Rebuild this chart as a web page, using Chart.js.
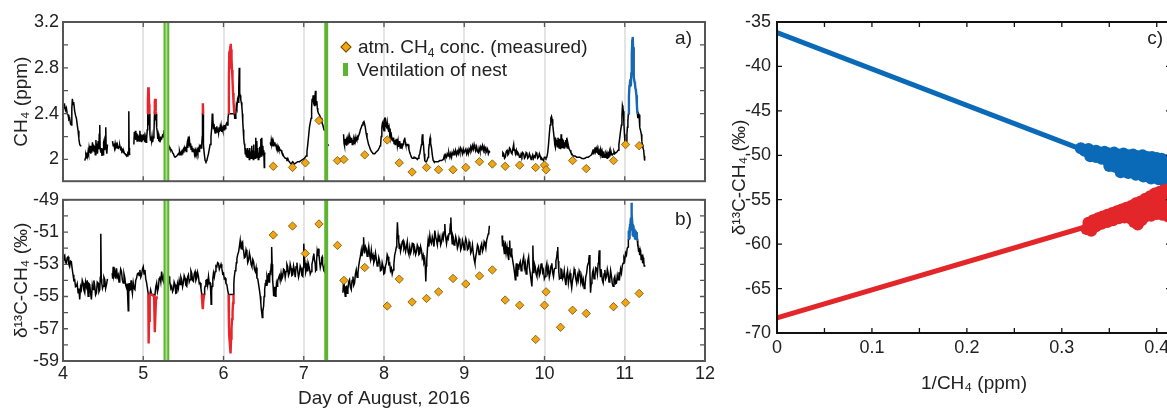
<!DOCTYPE html>
<html>
<head>
<meta charset="utf-8">
<script src="https://cdn.jsdelivr.net/npm/chart.js@4.4.0/dist/chart.umd.min.js"></script>
<style>
html,body{margin:0;padding:0;background:#fff;overflow:hidden;width:1167px;height:412px;}
canvas{position:absolute;}
#legend{position:absolute;left:339px;top:35px;font-family:"Liberation Sans",Arial,sans-serif;font-size:19px;color:#222;}
#legend .row{height:23px;display:flex;align-items:center;white-space:nowrap;}
#legend .dia{display:inline-block;width:6px;height:6px;transform:rotate(45deg);background:#f0a518;border:1px solid #6e5200;margin:0 8px 0 3px;}
#legend .bar{display:inline-block;width:5px;height:13px;background:#5bb52f;margin:0 9px 0 4px;}
#legend sub{font-size:12px;vertical-align:-4px;line-height:0;}
</style>
</head>
<body>
<canvas id="chartA" width="730" height="196" style="left:0;top:0"></canvas>
<canvas id="chartB" width="730" height="227" style="left:0;top:185px"></canvas>
<canvas id="chartC" width="470" height="400" style="left:725px;top:0"></canvas>
<div id="legend">
  <div class="row"><span class="dia"></span><span>atm. CH<sub>4</sub> conc. (measured)</span></div>
  <div class="row"><span class="bar"></span><span>Ventilation of nest</span></div>
</div>
<script>
// ticks
let dayTicks = [4,5,6,7,8,9,10,11,12]
let ch4Ticks = [2.0,2.2,2.4,2.6,2.8,3.0,3.2]
let ch4Labels = [2,2.4,2.8,3.2]
let d13Ticks = [-59,-58,-57,-56,-55,-54,-53,-52,-51,-50,-49]
let d13Labels = [-59,-57,-55,-53,-51,-49]
let invTicks = [0,0.05,0.1,0.15,0.2,0.25,0.3,0.35,0.4]
let invLabels = [0,0.1,0.2,0.3,0.4]
let keelTicks = [-70,-65,-60,-55,-50,-45,-40,-35]

// ventilation of nest (day of August)
let ventStart = [5.265, 7.268]
let ventEnd = [5.312, 7.292]

// atmospheric measurements
let atmDays = [6.62,6.86,7.02,7.19,7.42,7.50,7.76,8.04,8.19,8.35,8.53,8.68,8.86,9.02,9.19,9.35,9.51,9.69,9.89,10.00,10.02,10.20,10.35,10.52,10.86,11.01,11.18]
let atmCH4 = [1.94,1.93,1.97,2.34,1.99,2.00,2.04,2.17,1.97,1.89,1.93,1.91,1.91,1.93,1.98,1.96,1.94,1.95,1.93,1.95,1.91,null,1.99,1.92,1.99,2.13,2.12]
let atmD13 = [-51.18,-50.63,-52.33,-50.50,-51.83,-54.00,-53.20,-55.59,-53.92,-55.34,-55.12,-54.71,-53.88,-54.22,-53.72,-53.35,-55.22,-55.54,-57.66,-55.54,-54.71,-56.91,-55.85,-56.05,-55.63,-55.38,-54.81]

// CH4 in the nest, ppm  [day, value]
let ch4Line = [
[4.000,2.49],[4.010,2.45],[4.021,2.47],[4.031,2.43],[4.042,2.45],[4.052,2.40],[4.063,2.39],[4.073,2.35],[4.083,2.36],[4.094,2.31],[4.104,2.30],[4.110,2.45],[4.117,2.53],[4.125,2.48],[4.133,2.50],[4.146,2.42],[4.158,2.38],[4.167,2.36],[4.178,2.30],[4.188,2.25],[4.198,2.18],[4.208,2.13],[4.218,2.12],[4.229,2.12],[4.230,null],
[4.271,1.99],[4.279,2.01],[4.285,2.04],[4.292,2.02],[4.298,2.06],[4.306,2.03],[4.313,2.07],[4.319,2.05],[4.325,2.10],[4.333,2.06],[4.340,2.12],[4.346,2.05],[4.354,2.11],[4.360,2.06],[4.367,2.15],[4.375,2.08],[4.381,2.13],[4.388,2.07],[4.396,2.12],[4.402,2.04],[4.410,2.17],[4.417,2.08],[4.423,2.14],[4.430,2.05],[4.438,2.16],[4.446,2.09],[4.452,2.22],[4.458,2.30],[4.463,2.10],[4.471,2.06],[4.479,2.10],[4.485,2.03],[4.492,2.09],[4.500,2.04],[4.506,2.15],[4.513,2.17],[4.519,2.08],[4.525,2.12],[4.533,2.28],[4.538,2.10],[4.546,2.05],[4.554,2.13],[4.555,null],
[4.617,2.16],[4.625,2.12],[4.633,2.14],[4.642,2.10],[4.650,2.14],[4.658,2.11],[4.667,2.13],[4.675,2.10],[4.683,2.12],[4.692,2.10],[4.700,2.11],[4.708,2.12],[4.717,2.09],[4.725,2.10],[4.733,2.07],[4.742,2.08],[4.750,2.06],[4.758,2.07],[4.767,2.05],[4.775,2.05],[4.783,2.04],[4.792,2.04],[4.800,2.03],[4.808,2.05],[4.815,2.04],[4.819,2.25],[4.821,2.42],[4.824,2.10],[4.829,2.05],[4.835,2.04],[4.836,null],
[4.883,2.13],[4.889,2.24],[4.896,2.18],[4.902,2.25],[4.908,2.17],[4.917,2.23],[4.923,2.16],[4.929,2.22],[4.938,2.17],[4.944,2.21],[4.950,2.16],[4.958,2.25],[4.965,2.17],[4.971,2.22],[4.979,2.15],[4.985,2.21],[4.992,2.16],[5.000,2.22],[5.006,2.17],[5.013,2.20],[5.021,2.15],[5.029,2.19],[5.035,2.15],[5.042,2.18],[5.050,2.26],[5.056,2.40],[5.063,2.39],[5.071,2.30],[5.077,2.40],[5.083,2.22],[5.090,2.17],[5.096,2.20],[5.104,2.16],[5.110,2.20],[5.117,2.15],[5.125,2.19],[5.133,2.22],[5.140,2.40],[5.146,2.39],[5.154,2.34],[5.160,2.40],[5.167,2.28],[5.175,2.24],[5.181,2.18],[5.188,2.21],[5.194,2.16],[5.200,2.19],[5.208,2.15],[5.217,2.19],[5.229,2.18],[5.240,2.21],[5.250,2.20],[5.260,2.25],[5.271,2.30],[5.281,2.24],[5.292,2.19],[5.302,2.15],[5.313,2.13],[5.323,2.11],[5.333,2.09],[5.344,2.09],[5.354,2.08],[5.365,2.06],[5.375,2.05],[5.385,2.03],[5.396,2.02],[5.406,2.02],[5.417,2.03],[5.427,2.04],[5.438,2.05],[5.446,2.04],[5.452,2.07],[5.458,2.05],[5.465,2.07],[5.471,2.04],[5.479,2.06],[5.485,2.05],[5.492,2.08],[5.500,2.09],[5.506,2.06],[5.513,2.10],[5.521,2.08],[5.527,2.11],[5.535,2.07],[5.542,2.11],[5.548,2.14],[5.556,2.10],[5.563,2.20],[5.569,2.12],[5.577,2.16],[5.583,2.11],[5.590,2.14],[5.596,2.09],[5.604,2.12],[5.610,2.07],[5.617,2.10],[5.625,2.07],[5.631,2.09],[5.638,2.05],[5.646,2.08],[5.652,2.06],[5.658,2.08],[5.667,2.05],[5.675,2.08],[5.681,2.06],[5.688,2.09],[5.696,2.07],[5.702,2.11],[5.708,2.10],[5.715,2.13],[5.721,2.10],[5.729,2.13],[5.735,2.20],[5.738,2.40],[5.746,2.40],[5.750,2.13],[5.760,2.05],[5.771,1.99],[5.781,1.98],[5.792,1.99],[5.802,2.02],[5.813,2.05],[5.823,2.09],[5.833,2.13],[5.844,2.20],[5.854,2.28],[5.860,2.40],[5.867,2.36],[5.875,2.27],[5.881,2.31],[5.888,2.26],[5.896,2.23],[5.902,2.28],[5.908,2.24],[5.917,2.29],[5.923,2.25],[5.929,2.27],[5.938,2.23],[5.944,2.28],[5.950,2.24],[5.958,2.28],[5.965,2.25],[5.971,2.29],[5.979,2.24],[5.985,2.27],[5.992,2.25],[6.000,2.28],[6.008,2.26],[6.015,2.30],[6.021,2.27],[6.029,2.30],[6.035,2.31],[6.042,2.33],[6.050,2.30],[6.056,2.36],[6.063,2.40],[6.069,2.40],[6.135,2.40],[6.140,2.36],[6.146,2.36],[6.154,2.40],[6.160,2.47],[6.167,2.45],[6.175,2.52],[6.181,2.50],[6.188,2.56],[6.192,2.62],[6.196,2.80],[6.200,2.70],[6.204,2.58],[6.208,2.56],[6.215,2.52],[6.221,2.50],[6.229,2.46],[6.235,2.40],[6.240,2.33],[6.246,2.26],[6.252,2.19],[6.258,2.14],[6.265,2.12],[6.271,2.05],[6.277,2.10],[6.283,2.03],[6.290,2.09],[6.296,2.02],[6.302,2.10],[6.308,2.04],[6.315,2.08],[6.321,2.00],[6.327,2.10],[6.333,2.03],[6.340,2.07],[6.346,2.01],[6.352,2.12],[6.358,2.02],[6.365,2.08],[6.371,2.00],[6.377,2.13],[6.383,2.02],[6.390,2.07],[6.396,2.01],[6.402,2.19],[6.408,2.03],[6.415,2.16],[6.421,2.02],[6.427,2.10],[6.433,2.00],[6.440,2.06],[6.446,2.02],[6.452,2.11],[6.458,2.04],[6.465,2.18],[6.471,2.03],[6.477,2.19],[6.483,2.04],[6.490,2.12],[6.496,2.05],[6.502,2.08],[6.508,1.93],[6.512,2.05],[6.520,2.06],[6.521,null],
[6.583,2.15],[6.590,2.12],[6.596,2.17],[6.604,2.14],[6.610,2.16],[6.617,2.12],[6.625,2.15],[6.633,2.13],[6.640,2.15],[6.646,2.12],[6.654,2.13],[6.660,2.10],[6.667,2.12],[6.675,2.09],[6.683,2.11],[6.690,2.09],[6.696,2.10],[6.706,2.08],[6.717,2.08],[6.727,2.06],[6.738,2.05],[6.748,2.03],[6.758,2.02],[6.769,2.01],[6.779,2.01],[6.790,2.00],[6.800,2.01],[6.810,1.99],[6.821,1.98],[6.831,1.97],[6.842,1.96],[6.852,1.97],[6.863,1.98],[6.873,1.97],[6.883,1.96],[6.904,1.97],[6.925,1.98],[6.946,1.98],[6.967,1.99],[6.988,2.00],[7.008,2.01],[7.019,2.02],[7.029,2.03],[7.040,2.07],[7.050,2.13],[7.060,2.20],[7.071,2.28],[7.081,2.32],[7.092,2.36],[7.098,2.45],[7.104,2.53],[7.110,2.50],[7.117,2.56],[7.121,2.55],[7.127,2.49],[7.133,2.47],[7.140,2.55],[7.146,2.60],[7.152,2.52],[7.158,2.48],[7.163,2.51],[7.169,2.45],[7.175,2.42],[7.185,2.40],[7.196,2.39],[7.206,2.37],[7.217,2.36],[7.227,2.32],[7.238,2.30],[7.248,2.27],[7.258,2.25],[7.259,null],
[7.300,2.13],[7.310,2.12],[7.311,null],
[7.496,2.22],[7.502,2.14],[7.508,2.12],[7.515,2.18],[7.521,2.13],[7.529,2.16],[7.535,2.12],[7.542,2.17],[7.550,2.13],[7.556,2.18],[7.563,2.14],[7.571,2.19],[7.577,2.15],[7.583,2.18],[7.592,2.16],[7.598,2.19],[7.604,2.13],[7.613,2.17],[7.619,2.14],[7.625,2.18],[7.633,2.16],[7.640,2.19],[7.646,2.16],[7.654,2.18],[7.660,2.17],[7.667,2.20],[7.675,2.19],[7.685,2.21],[7.696,2.23],[7.706,2.26],[7.717,2.28],[7.727,2.30],[7.738,2.32],[7.750,2.33],[7.758,2.31],[7.767,2.28],[7.777,2.23],[7.788,2.19],[7.798,2.16],[7.808,2.13],[7.819,2.11],[7.829,2.09],[7.842,2.07],[7.854,2.06],[7.865,2.05],[7.875,2.05],[7.885,2.05],[7.896,2.06],[7.910,2.07],[7.925,2.08],[7.940,2.10],[7.952,2.12],[7.958,2.13],[7.965,2.20],[7.971,2.26],[7.975,2.28],[7.981,2.32],[7.988,2.33],[7.994,2.27],[8.000,2.25],[8.006,2.30],[8.012,2.36],[8.017,2.36],[8.025,2.29],[8.033,2.28],[8.040,2.32],[8.046,2.27],[8.050,2.30],[8.058,2.24],[8.065,2.27],[8.071,2.22],[8.079,2.24],[8.085,2.19],[8.092,2.21],[8.100,2.17],[8.106,2.19],[8.113,2.16],[8.119,2.19],[8.125,2.14],[8.133,2.17],[8.140,2.13],[8.146,2.16],[8.154,2.15],[8.160,2.18],[8.167,2.12],[8.175,2.16],[8.181,2.11],[8.188,2.15],[8.196,2.16],[8.202,2.10],[8.208,2.14],[8.217,2.10],[8.223,2.14],[8.229,2.11],[8.238,2.13],[8.244,2.15],[8.250,2.17],[8.258,2.19],[8.265,2.15],[8.271,2.13],[8.279,2.12],[8.290,2.13],[8.300,2.13],[8.310,2.09],[8.321,2.06],[8.331,2.04],[8.342,2.02],[8.352,2.01],[8.363,2.01],[8.373,2.02],[8.383,2.02],[8.394,2.01],[8.404,2.01],[8.415,2.00],[8.425,2.01],[8.435,2.03],[8.446,2.05],[8.456,2.09],[8.467,2.13],[8.473,2.18],[8.479,2.22],[8.485,2.17],[8.492,2.13],[8.500,2.05],[8.508,1.99],[8.519,1.98],[8.529,1.98],[8.540,2.00],[8.550,2.02],[8.556,2.08],[8.563,2.13],[8.569,2.17],[8.575,2.19],[8.581,2.14],[8.592,2.10],[8.602,2.04],[8.613,1.99],[8.623,1.98],[8.633,1.98],[8.654,1.98],[8.675,1.98],[8.696,1.99],[8.717,1.99],[8.738,2.00],[8.750,2.03],[8.758,2.01],[8.765,2.04],[8.779,2.02],[8.788,2.05],[8.800,2.03],[8.808,2.06],[8.821,2.02],[8.831,2.05],[8.842,2.02],[8.850,2.06],[8.863,2.04],[8.871,2.07],[8.883,2.05],[8.892,2.08],[8.904,2.04],[8.915,2.07],[8.925,2.05],[8.935,2.09],[8.946,2.06],[8.956,2.10],[8.967,2.08],[8.977,2.05],[8.988,2.09],[8.998,2.06],[9.008,2.06],[9.019,2.09],[9.029,2.05],[9.040,2.08],[9.050,2.05],[9.060,2.09],[9.071,2.07],[9.081,2.11],[9.092,2.08],[9.102,2.12],[9.113,2.09],[9.123,2.13],[9.133,2.10],[9.144,2.08],[9.154,2.11],[9.165,2.07],[9.175,2.06],[9.185,2.10],[9.196,2.07],[9.206,2.11],[9.217,2.09],[9.227,2.12],[9.238,2.08],[9.248,2.11],[9.258,2.08],[9.269,2.10],[9.279,2.07],[9.290,2.09],[9.300,2.05],[9.310,2.07],[9.321,2.06],[9.322,null],
[9.471,2.03],[9.481,2.06],[9.492,2.05],[9.502,2.01],[9.512,2.02],[9.523,2.07],[9.533,2.08],[9.544,2.04],[9.554,2.05],[9.564,2.10],[9.574,2.09],[9.585,2.06],[9.595,2.05],[9.605,2.09],[9.616,2.13],[9.622,2.08],[9.628,2.09],[9.638,2.05],[9.649,2.08],[9.659,2.04],[9.669,2.06],[9.678,2.05],[9.688,2.02],[9.698,2.02],[9.709,2.05],[9.719,2.03],[9.729,2.06],[9.740,2.05],[9.750,2.01],[9.760,2.02],[9.771,2.06],[9.781,2.05],[9.791,2.01],[9.802,2.02],[9.812,2.05],[9.822,2.03],[9.833,2.00],[9.843,2.02],[9.853,2.04],[9.864,2.01],[9.874,2.03],[9.884,2.02],[9.895,2.06],[9.905,2.05],[9.915,2.01],[9.926,2.02],[9.936,2.05],[9.946,2.03],[9.957,2.00],[9.967,2.01],[9.977,2.00],[9.988,1.99],[9.998,2.02],[10.008,2.02],[10.018,2.01],[10.029,2.02],[10.040,2.06],[10.050,2.13],[10.060,2.22],[10.070,2.30],[10.079,2.36],[10.087,2.375],[10.095,2.35],[10.103,2.30],[10.112,2.24],[10.120,2.19],[10.128,2.13],[10.136,2.105],[10.144,2.17],[10.153,2.15],[10.161,2.11],[10.168,2.19],[10.174,2.16],[10.182,2.10],[10.188,2.18],[10.194,2.13],[10.201,2.09],[10.207,2.22],[10.213,2.12],[10.219,2.105],[10.227,2.17],[10.236,2.16],[10.244,2.10],[10.250,2.15],[10.256,2.12],[10.264,2.17],[10.271,2.11],[10.277,2.19],[10.285,2.10],[10.292,2.14],[10.298,2.12],[10.308,2.09],[10.318,2.08],[10.329,2.06],[10.339,2.05],[10.349,2.04],[10.360,2.03],[10.380,2.03],[10.401,2.02],[10.421,2.02],[10.442,2.02],[10.462,2.01],[10.483,2.006],[10.504,2.01],[10.525,2.02],[10.545,2.02],[10.566,2.03],[10.586,2.04],[10.600,2.07],[10.607,2.05],[10.614,2.09],[10.621,2.06],[10.628,2.105],[10.635,2.07],[10.642,2.09],[10.649,2.06],[10.656,2.09],[10.663,2.05],[10.669,2.08],[10.676,2.04],[10.683,2.07],[10.690,2.05],[10.697,2.08],[10.704,2.03],[10.711,2.06],[10.718,2.02],[10.725,2.05],[10.731,2.03],[10.738,2.07],[10.745,2.02],[10.752,2.05],[10.759,2.02],[10.766,2.06],[10.773,2.05],[10.780,2.01],[10.786,2.04],[10.793,2.02],[10.800,2.07],[10.807,2.03],[10.814,2.06],[10.821,2.04],[10.828,2.07],[10.835,2.05],[10.845,2.04],[10.855,2.05],[10.866,2.07],[10.876,2.05],[10.887,2.06],[10.897,2.06],[10.907,2.07],[10.917,2.08],[10.927,2.13],[10.938,2.19],[10.948,2.25],[10.959,2.30],[10.965,2.38],[10.971,2.47],[10.977,2.45],[10.983,2.42],[10.989,2.32],[10.996,2.22],[11.002,2.16],[11.008,2.13],[11.015,2.15],[11.021,2.16],[11.027,2.22],[11.033,2.28],[11.039,2.34],[11.045,2.40],[11.046,null],
[11.157,2.40],[11.162,2.37],[11.165,2.36],[11.171,2.40],[11.178,2.39],[11.184,2.33],[11.190,2.28],[11.198,2.25],[11.207,2.22],[11.213,2.16],[11.219,2.13],[11.227,2.10],[11.236,2.08],[11.242,2.03],[11.248,1.99]
]
let ch4Red = [
[5.054,2.40],[5.058,2.52],[5.063,2.63],[5.068,2.60],[5.073,2.48],[5.077,2.40],[5.078,null],
[5.140,2.40],[5.144,2.50],[5.148,2.53],[5.153,2.50],[5.158,2.42],[5.160,2.40],[5.161,null],
[5.738,2.40],[5.741,2.47],[5.744,2.49],[5.747,2.40],[5.748,null],
[6.063,2.40],[6.067,2.70],[6.071,2.88],[6.076,2.92],[6.080,2.86],[6.085,2.98],[6.090,3.01],[6.095,2.96],[6.100,2.88],[6.106,2.78],[6.112,2.70],[6.119,2.58],[6.125,2.50],[6.131,2.44],[6.135,2.40]
]
let ch4Blue = [
[11.045,2.40],[11.052,2.55],[11.058,2.64],[11.064,2.66],[11.070,2.70],[11.076,2.64],[11.082,2.75],[11.088,2.92],[11.094,3.04],[11.099,3.07],[11.104,2.98],[11.109,2.80],[11.115,2.72],[11.121,2.68],[11.127,2.66],[11.133,2.62],[11.139,2.60],[11.145,2.56],[11.151,2.48],[11.157,2.40]
]

// d13C-CH4 in the nest, permil  [day, value]
let d13Line = [
[4.000,-52.74],[4.010,-52.50],[4.021,-52.43],[4.031,-52.90],[4.042,-52.94],[4.052,-52.60],[4.063,-52.54],[4.073,-53.00],[4.083,-53.15],[4.094,-52.80],[4.104,-52.84],[4.115,-53.30],[4.125,-53.65],[4.135,-54.00],[4.146,-53.96],[4.156,-54.40],[4.167,-54.37],[4.177,-54.20],[4.188,-54.77],[4.198,-54.50],[4.208,-55.18],[4.219,-54.40],[4.229,-54.57],[4.240,-54.00],[4.250,-54.16],[4.260,-54.60],[4.271,-54.77],[4.281,-54.10],[4.292,-54.37],[4.302,-54.00],[4.313,-54.98],[4.323,-54.20],[4.333,-54.26],[4.344,-54.80],[4.354,-55.18],[4.365,-54.30],[4.375,-54.57],[4.385,-54.00],[4.396,-54.37],[4.406,-54.90],[4.417,-54.77],[4.427,-54.10],[4.438,-54.16],[4.448,-54.70],[4.458,-54.57],[4.465,-53.80],[4.471,-51.11],[4.477,-53.90],[4.483,-54.16],[4.492,-54.50],[4.500,-54.37],[4.510,-53.80],[4.521,-53.96],[4.531,-54.50],[4.542,-54.26],[4.554,-53.90],[4.555,null],
[4.613,-53.55],[4.619,-53.90],[4.625,-53.15],[4.635,-53.70],[4.646,-53.45],[4.656,-53.90],[4.667,-53.25],[4.677,-53.80],[4.688,-53.65],[4.698,-54.10],[4.708,-53.76],[4.719,-53.30],[4.729,-53.45],[4.740,-54.00],[4.750,-54.16],[4.760,-53.60],[4.771,-53.86],[4.781,-54.30],[4.792,-54.47],[4.800,-54.20],[4.806,-55.00],[4.813,-55.89],[4.819,-54.80],[4.825,-54.16],[4.833,-54.60],[4.842,-54.57],[4.848,-54.00],[4.854,-54.37],[4.865,-54.80],[4.875,-54.16],[4.885,-54.50],[4.896,-54.57],[4.906,-54.00],[4.917,-53.86],[4.927,-53.60],[4.938,-53.55],[4.948,-53.70],[4.958,-53.35],[4.969,-53.80],[4.979,-53.65],[4.990,-53.30],[5.000,-53.15],[5.010,-53.60],[5.021,-53.35],[5.031,-53.90],[5.042,-54.16],[5.052,-54.50],[5.063,-54.87],[5.083,-54.87],[5.092,-54.60],[5.104,-54.87],[5.125,-54.87],[5.146,-54.90],[5.156,-54.40],[5.167,-54.16],[5.177,-54.70],[5.188,-54.47],[5.198,-53.90],[5.208,-53.76],[5.219,-54.10],[5.229,-53.45],[5.240,-53.90],[5.250,-54.06],[5.260,-53.60],[5.271,-53.25],[5.277,-53.70],[5.283,-53.86],[5.292,-54.30],[5.300,-54.16],[5.310,-53.70],[5.321,-53.76],[5.327,-54.20],[5.333,-54.06],[5.344,-54.50],[5.354,-54.37],[5.365,-54.70],[5.375,-54.57],[5.385,-54.10],[5.396,-54.26],[5.406,-54.80],[5.417,-54.77],[5.427,-54.20],[5.438,-54.47],[5.448,-54.00],[5.458,-54.26],[5.469,-53.80],[5.479,-53.96],[5.490,-54.40],[5.500,-54.16],[5.510,-53.70],[5.521,-53.86],[5.531,-54.30],[5.542,-54.37],[5.552,-53.80],[5.563,-53.65],[5.573,-54.10],[5.583,-53.96],[5.594,-53.40],[5.604,-53.55],[5.615,-54.00],[5.625,-54.06],[5.635,-53.60],[5.646,-53.45],[5.656,-54.00],[5.667,-53.86],[5.677,-53.50],[5.688,-53.76],[5.698,-54.20],[5.708,-54.16],[5.719,-54.50],[5.729,-54.87],[5.758,-54.87],[5.765,-54.50],[5.771,-54.37],[5.781,-54.00],[5.792,-53.96],[5.802,-54.30],[5.813,-53.76],[5.823,-54.20],[5.833,-54.16],[5.840,-54.60],[5.846,-55.48],[5.852,-54.60],[5.858,-54.37],[5.867,-53.90],[5.875,-53.55],[5.885,-53.80],[5.896,-53.45],[5.906,-53.10],[5.917,-53.15],[5.927,-52.90],[5.938,-52.94],[5.948,-53.30],[5.958,-53.15],[5.969,-53.00],[5.979,-53.25],[5.990,-53.60],[6.000,-53.55],[6.010,-53.90],[6.021,-53.86],[6.031,-54.20],[6.042,-54.26],[6.052,-54.60],[6.063,-54.87],[6.125,-54.87],[6.129,-54.20],[6.133,-53.86],[6.144,-53.40],[6.154,-53.25],[6.160,-52.90],[6.167,-52.64],[6.177,-52.40],[6.188,-52.23],[6.198,-51.90],[6.208,-51.52],[6.215,-51.90],[6.221,-52.03],[6.229,-51.70],[6.238,-51.62],[6.244,-52.10],[6.250,-52.13],[6.260,-52.60],[6.271,-52.54],[6.281,-52.10],[6.292,-52.33],[6.302,-52.90],[6.313,-52.74],[6.323,-52.30],[6.333,-52.54],[6.344,-53.00],[6.354,-53.15],[6.365,-52.70],[6.375,-52.84],[6.385,-53.30],[6.396,-53.45],[6.406,-53.20],[6.417,-53.86],[6.427,-53.90],[6.438,-54.26],[6.448,-54.60],[6.458,-54.98],[6.465,-55.40],[6.471,-55.79],[6.477,-56.00],[6.483,-56.30],[6.490,-55.90],[6.500,-55.59],[6.506,-55.00],[6.513,-54.57],[6.521,-54.20],[6.529,-53.96],[6.535,-54.30],[6.542,-53.76],[6.552,-54.00],[6.563,-53.55],[6.569,-54.10],[6.575,-53.86],[6.581,-53.50],[6.588,-53.55],[6.594,-53.00],[6.600,-51.93],[6.606,-53.00],[6.612,-53.96],[6.619,-54.40],[6.625,-54.98],[6.633,-54.77],[6.640,-54.40],[6.646,-54.98],[6.654,-54.70],[6.660,-54.20],[6.667,-54.37],[6.675,-54.00],[6.683,-53.90],[6.696,-53.70],[6.706,-54.00],[6.717,-53.55],[6.727,-53.90],[6.738,-53.76],[6.748,-53.30],[6.758,-53.35],[6.769,-53.80],[6.779,-53.45],[6.790,-53.00],[6.800,-53.15],[6.810,-53.70],[6.821,-53.55],[6.831,-53.00],[6.842,-53.25],[6.852,-53.70],[6.863,-53.65],[6.873,-53.10],[6.883,-53.35],[6.894,-53.80],[6.904,-53.15],[6.915,-52.90],[6.925,-53.45],[6.935,-53.80],[6.946,-53.55],[6.956,-53.10],[6.967,-53.25],[6.977,-53.70],[6.988,-53.76],[6.994,-53.20],[7.000,-51.72],[7.008,-52.60],[7.017,-52.94],[7.025,-53.50],[7.033,-53.35],[7.042,-53.00],[7.050,-53.45],[7.060,-53.00],[7.071,-53.25],[7.081,-53.60],[7.092,-53.45],[7.102,-53.00],[7.113,-52.74],[7.119,-52.50],[7.125,-52.33],[7.133,-52.70],[7.142,-52.94],[7.148,-53.40],[7.154,-53.35],[7.160,-52.80],[7.167,-52.23],[7.175,-52.50],[7.183,-52.03],[7.190,-52.40],[7.196,-52.74],[7.206,-53.20],[7.217,-52.94],[7.223,-52.60],[7.229,-52.54],[7.235,-53.00],[7.242,-53.15],[7.250,-53.40],[7.258,-53.45],[7.265,-53.00],[7.271,-52.74],[7.279,-53.10],[7.285,-53.25],[7.292,-53.45],[7.293,null],
[7.488,-54.77],[7.494,-54.20],[7.500,-53.86],[7.508,-54.60],[7.517,-54.98],[7.525,-54.40],[7.533,-54.37],[7.542,-54.80],[7.550,-54.57],[7.560,-54.10],[7.571,-53.96],[7.581,-54.40],[7.592,-54.57],[7.602,-54.00],[7.613,-53.76],[7.623,-54.30],[7.633,-54.16],[7.644,-53.60],[7.654,-53.35],[7.665,-53.80],[7.675,-53.55],[7.685,-53.10],[7.696,-52.74],[7.706,-52.50],[7.717,-52.13],[7.725,-52.50],[7.733,-52.23],[7.740,-51.80],[7.746,-51.32],[7.752,-52.00],[7.758,-52.33],[7.769,-51.90],[7.779,-52.03],[7.790,-52.50],[7.800,-52.23],[7.810,-51.90],[7.821,-52.43],[7.831,-52.70],[7.842,-52.13],[7.852,-52.60],[7.863,-52.43],[7.873,-52.90],[7.883,-52.74],[7.894,-52.30],[7.904,-52.64],[7.915,-53.10],[7.925,-53.04],[7.935,-52.60],[7.946,-52.84],[7.956,-53.40],[7.967,-53.35],[7.977,-52.90],[7.988,-53.15],[7.998,-53.60],[8.008,-53.55],[8.019,-53.10],[8.029,-52.94],[8.040,-52.40],[8.050,-52.54],[8.060,-53.00],[8.071,-52.94],[8.081,-53.40],[8.092,-53.25],[8.102,-53.60],[8.113,-53.35],[8.123,-53.00],[8.133,-52.43],[8.144,-52.20],[8.154,-51.93],[8.160,-51.40],[8.167,-50.40],[8.175,-51.20],[8.183,-51.52],[8.190,-52.00],[8.196,-51.72],[8.206,-52.20],[8.217,-51.93],[8.227,-51.60],[8.238,-51.52],[8.248,-52.00],[8.258,-51.83],[8.269,-52.20],[8.279,-51.93],[8.290,-51.60],[8.300,-52.23],[8.310,-52.40],[8.321,-51.93],[8.331,-52.30],[8.342,-52.13],[8.352,-51.70],[8.363,-51.72],[8.373,-52.20],[8.383,-52.03],[8.394,-52.40],[8.404,-52.23],[8.415,-51.80],[8.425,-51.93],[8.435,-52.40],[8.446,-52.33],[8.456,-51.90],[8.467,-52.13],[8.477,-52.60],[8.488,-52.43],[8.498,-52.90],[8.508,-52.74],[8.515,-53.20],[8.521,-54.06],[8.527,-53.10],[8.533,-52.74],[8.542,-52.00],[8.550,-51.52],[8.560,-51.90],[8.571,-51.22],[8.581,-51.60],[8.592,-51.72],[8.602,-51.30],[8.613,-51.52],[8.623,-51.90],[8.633,-50.91],[8.644,-51.30],[8.654,-51.52],[8.665,-51.80],[8.675,-51.22],[8.685,-51.60],[8.696,-51.32],[8.706,-51.80],[8.717,-51.62],[8.727,-51.20],[8.738,-51.42],[8.748,-51.00],[8.758,-50.50],[8.765,-51.20],[8.779,-51.72],[8.790,-51.30],[8.800,-51.42],[8.810,-51.10],[8.821,-50.91],[8.827,-50.50],[8.833,-50.10],[8.840,-51.00],[8.850,-51.72],[8.856,-51.20],[8.863,-51.32],[8.873,-51.80],[8.883,-51.72],[8.894,-51.30],[8.904,-51.52],[8.915,-52.00],[8.925,-51.83],[8.935,-51.40],[8.946,-51.62],[8.956,-52.10],[8.967,-51.93],[8.977,-51.50],[8.988,-51.72],[8.998,-52.10],[9.008,-51.72],[9.019,-51.40],[9.029,-51.62],[9.040,-52.10],[9.050,-52.03],[9.060,-51.60],[9.071,-51.83],[9.081,-52.30],[9.092,-52.13],[9.102,-51.80],[9.113,-52.33],[9.123,-52.70],[9.133,-52.94],[9.144,-52.50],[9.154,-52.23],[9.165,-51.80],[9.175,-51.93],[9.185,-52.40],[9.196,-52.33],[9.206,-51.90],[9.217,-51.72],[9.227,-52.20],[9.238,-52.03],[9.248,-51.60],[9.258,-51.72],[9.269,-52.00],[9.279,-51.52],[9.290,-51.30],[9.300,-51.11],[9.306,-51.00],[9.313,-50.61],[9.314,null],
[9.471,-51.22],[9.477,-51.90],[9.483,-51.52],[9.492,-52.00],[9.500,-52.33],[9.506,-51.80],[9.512,-51.72],[9.522,-52.30],[9.533,-51.93],[9.543,-52.40],[9.554,-52.74],[9.560,-52.00],[9.566,-51.52],[9.573,-52.30],[9.583,-52.54],[9.589,-52.00],[9.595,-52.33],[9.605,-52.80],[9.616,-53.15],[9.626,-53.50],[9.636,-53.96],[9.643,-53.30],[9.649,-52.94],[9.657,-53.50],[9.665,-53.76],[9.671,-53.00],[9.678,-53.35],[9.688,-53.00],[9.698,-52.84],[9.709,-53.40],[9.719,-53.15],[9.729,-52.80],[9.740,-52.54],[9.750,-53.20],[9.760,-52.94],[9.771,-53.60],[9.781,-53.35],[9.791,-52.80],[9.802,-52.54],[9.812,-53.20],[9.822,-53.55],[9.833,-54.00],[9.843,-54.37],[9.849,-53.50],[9.855,-51.83],[9.861,-53.00],[9.868,-53.55],[9.876,-53.00],[9.884,-53.15],[9.895,-53.60],[9.905,-53.76],[9.915,-53.30],[9.926,-53.15],[9.936,-53.70],[9.946,-53.55],[9.957,-53.00],[9.967,-52.94],[9.977,-53.50],[9.988,-53.35],[9.998,-53.90],[10.008,-53.76],[10.018,-53.20],[10.029,-52.94],[10.040,-53.50],[10.050,-53.25],[10.060,-53.80],[10.070,-53.55],[10.081,-53.10],[10.091,-52.94],[10.101,-53.50],[10.112,-53.76],[10.122,-53.30],[10.132,-53.25],[10.142,-52.80],[10.153,-52.54],[10.159,-52.20],[10.165,-51.93],[10.171,-52.80],[10.178,-53.45],[10.186,-53.90],[10.194,-53.86],[10.205,-53.30],[10.215,-53.35],[10.225,-53.90],[10.236,-53.76],[10.246,-53.40],[10.256,-53.96],[10.267,-54.30],[10.277,-53.65],[10.287,-53.40],[10.298,-54.16],[10.308,-53.80],[10.318,-53.55],[10.329,-54.10],[10.339,-54.47],[10.349,-54.00],[10.360,-53.76],[10.370,-53.30],[10.380,-53.45],[10.390,-53.90],[10.401,-54.16],[10.411,-53.70],[10.421,-53.96],[10.432,-53.40],[10.442,-53.55],[10.452,-54.10],[10.463,-53.76],[10.473,-54.20],[10.483,-53.96],[10.494,-54.50],[10.504,-54.37],[10.514,-53.80],[10.525,-53.55],[10.535,-53.10],[10.545,-52.94],[10.552,-52.70],[10.558,-52.43],[10.566,-53.50],[10.574,-54.77],[10.582,-54.20],[10.591,-53.96],[10.599,-53.50],[10.607,-53.35],[10.617,-53.90],[10.628,-53.76],[10.638,-53.20],[10.649,-53.25],[10.659,-53.60],[10.669,-52.94],[10.676,-52.60],[10.682,-52.13],[10.690,-53.20],[10.698,-53.76],[10.704,-53.30],[10.711,-53.55],[10.721,-54.00],[10.731,-54.16],[10.742,-53.60],[10.752,-53.35],[10.762,-53.90],[10.773,-53.76],[10.783,-53.30],[10.793,-53.55],[10.804,-54.10],[10.814,-53.96],[10.824,-53.40],[10.835,-53.76],[10.845,-54.20],[10.855,-54.37],[10.866,-53.90],[10.876,-53.76],[10.886,-54.20],[10.897,-54.16],[10.907,-53.70],[10.917,-53.96],[10.928,-53.50],[10.938,-53.76],[10.948,-53.30],[10.959,-53.55],[10.969,-53.10],[10.979,-52.94],[10.990,-52.60],[11.000,-52.74],[11.010,-52.30],[11.021,-52.43],[11.031,-52.00],[11.041,-51.93],[11.045,-51.42],[11.046,null],
[11.157,-51.52],[11.161,-51.90],[11.165,-51.72],[11.170,-52.10],[11.174,-52.23],[11.180,-52.00],[11.186,-52.43],[11.192,-52.10],[11.198,-52.23],[11.204,-52.70],[11.211,-52.64],[11.217,-52.40],[11.223,-52.94],[11.230,-52.60],[11.236,-52.74],[11.242,-53.10],[11.248,-53.04]
]
let d13Red = [
[5.063,-54.87],[5.067,-57.92],[5.072,-56.50],[5.078,-55.20],[5.083,-54.87],[5.104,-54.87],[5.125,-54.95],[5.135,-55.00],[5.142,-56.00],[5.146,-57.21],[5.152,-56.00],[5.160,-55.10],[5.167,-54.98],[5.168,null],
[5.729,-54.87],[5.736,-55.40],[5.742,-55.79],[5.748,-55.30],[5.758,-54.87],[5.759,null],
[6.063,-54.87],[6.067,-56.50],[6.071,-57.41],[6.077,-57.80],[6.083,-58.20],[6.088,-58.53],[6.094,-57.60],[6.100,-57.01],[6.106,-56.40],[6.113,-55.99],[6.119,-55.40],[6.125,-54.87]
]
let d13Blue = [
[11.045,-51.42],[11.050,-50.91],[11.054,-51.30],[11.058,-50.70],[11.062,-51.32],[11.066,-50.60],[11.070,-50.61],[11.074,-50.40],[11.078,-50.10],[11.082,-50.91],[11.085,-49.80],[11.087,-49.18],[11.090,-49.90],[11.095,-50.50],[11.100,-51.22],[11.104,-50.60],[11.107,-50.71],[11.112,-51.30],[11.116,-50.80],[11.120,-51.32],[11.124,-50.91],[11.128,-51.40],[11.132,-50.90],[11.136,-51.42],[11.140,-50.91],[11.145,-51.42],[11.149,-51.00],[11.153,-51.42],[11.157,-51.52]
]

// Keeling plot  [1/CH4, d13C]
let keelBlueFit = [[0,-36.2],[0.325,-49.5]]
let keelRedFit = [[0,-68.3],[0.33,-57.9]]
let keelBlue = [
[0.320,-49.2],[0.324,-49.5],[0.328,-49.3],[0.332,-49.7],[0.336,-49.5],[0.340,-49.7],[0.345,-49.6],[0.350,-49.8],[0.355,-49.7],[0.360,-49.9],[0.365,-49.8],[0.370,-50.0],[0.375,-49.9],[0.380,-50.1],[0.385,-50.0],[0.390,-50.2],[0.395,-50.2],[0.400,-50.3],[0.405,-50.4],[0.410,-50.6],[0.415,-50.7],[0.420,-50.8],
[0.330,-50.1],[0.336,-50.2],[0.342,-50.4],[0.348,-50.6],[0.354,-50.5],[0.360,-50.7],[0.366,-50.6],[0.372,-50.8],[0.378,-50.9],[0.384,-50.8],[0.390,-51.0],[0.396,-51.0],[0.402,-51.1],[0.408,-51.3],[0.414,-51.4],[0.420,-51.5],
[0.350,-51.2],[0.356,-51.3],[0.362,-51.4],[0.368,-51.4],[0.374,-51.6],[0.380,-51.6],[0.386,-51.8],[0.392,-51.8],[0.398,-51.9],[0.404,-52.0],[0.410,-52.1],[0.416,-52.2],[0.420,-52.3],
[0.362,-51.9],[0.370,-52.0],[0.378,-52.2],[0.386,-52.4],[0.394,-52.6],[0.402,-52.7],[0.408,-52.9],[0.414,-53.1],[0.420,-53.3],[0.410,-53.5],[0.416,-53.7]
]
let keelRed = [
[0.328,-57.6],[0.333,-57.3],[0.338,-57.1],[0.343,-56.9],[0.348,-56.7],[0.353,-56.5],[0.358,-56.3],[0.363,-56.1],[0.368,-55.9],[0.373,-55.7],[0.378,-55.4],[0.383,-55.2],[0.388,-54.9],[0.393,-54.6],[0.398,-54.3],[0.403,-54.1],[0.408,-53.9],[0.413,-53.8],[0.418,-53.9],
[0.326,-58.3],[0.331,-58.5],[0.336,-58.0],[0.342,-57.7],[0.348,-57.5],[0.354,-57.3],[0.360,-57.1],[0.366,-57.0],[0.372,-57.1],[0.376,-57.5],[0.380,-57.8],[0.384,-57.3],[0.388,-56.9],[0.394,-56.8],[0.400,-56.6],[0.406,-56.7],[0.412,-56.9],[0.418,-56.9],
[0.356,-56.9],[0.362,-56.6],[0.368,-56.5],[0.374,-56.3],[0.380,-56.3],[0.386,-56.0],[0.392,-55.7],[0.398,-55.4],[0.404,-55.1],[0.410,-54.8],[0.416,-54.7],
[0.382,-56.9],[0.390,-56.3],[0.396,-56.1],[0.402,-55.9],[0.408,-55.7],[0.414,-55.6],[0.420,-55.5],[0.404,-56.3],[0.412,-56.2],[0.418,-56.1]
]

const FONT = '"Liberation Sans", Arial, sans-serif'
Chart.defaults.font.family = FONT
Chart.defaults.color = '#222'

const toPts = arr => arr.map(p => ({x: p[0], y: p[1]}))
const isIn = (list, v) => list.some(l => Math.abs(l - v) < 1e-9)
const atmPts = vals => atmDays.map((d, i) => ({x: d, y: vals[i]})).filter(p => p.y !== null)

// box with inward ticks, ventilation bars and panel letter
const framePlugin = {
    id: 'frame',
    afterDatasetsDraw(chart, args, o) {
        const {ctx, chartArea: a} = chart
        const sx = chart.scales.x, sy = chart.scales.y
        ctx.save()
        if (o.vent) {
            ventStart.forEach((v, i) => {
                const x0 = sx.getPixelForValue(v), x1 = sx.getPixelForValue(ventEnd[i])
                ctx.fillStyle = '#b3dd9c'
                ctx.fillRect(x0, a.top, x1 - x0, a.bottom - a.top)
                ctx.strokeStyle = '#5bb52f'
                ctx.lineWidth = 2
                ctx.beginPath()
                ctx.moveTo(x0, a.top); ctx.lineTo(x0, a.bottom)
                ctx.moveTo(x1, a.top); ctx.lineTo(x1, a.bottom)
                ctx.stroke()
            })
        }
        ctx.strokeStyle = o.color
        ctx.lineWidth = 1.3
        ctx.beginPath()
        o.xTicks.forEach(v => {
            const p = sx.getPixelForValue(v)
            ctx.moveTo(p, a.top); ctx.lineTo(p, a.top + o.len)
            ctx.moveTo(p, a.bottom); ctx.lineTo(p, a.bottom - o.len)
        })
        o.yTicks.forEach(v => {
            const p = sy.getPixelForValue(v)
            ctx.moveTo(a.left, p); ctx.lineTo(a.left + o.len, p)
            ctx.moveTo(a.right, p); ctx.lineTo(a.right - o.len, p)
        })
        ctx.stroke()
        ctx.lineWidth = o.width
        ctx.strokeRect(a.left, a.top, a.right - a.left, a.bottom - a.top)
        ctx.fillStyle = '#222'
        ctx.font = '19px ' + FONT
        ctx.textAlign = 'right'
        ctx.textBaseline = 'middle'
        ctx.fillText(o.letter, a.right - o.lx, a.top + o.ly)
        ctx.restore()
    }
}

const common = {
    responsive: false,
    animation: false,
    devicePixelRatio: 1
}

function dayAxis(showLabels) {
    return {
        type: 'linear', min: 4, max: 12,
        afterBuildTicks: s => { s.ticks = dayTicks.map(v => ({value: v})) },
        ticks: {display: showLabels, font: {size: 18}, padding: 2, maxRotation: 0, autoSkip: false},
        grid: {color: '#e4e4e4', lineWidth: 2, drawTicks: false},
        border: {display: false},
        title: {display: showLabels, text: 'Day of August, 2016', font: {size: 19}, padding: {top: 0, bottom: 2}},
        afterFit: s => { s.height = showLabels ? 51 : 0 }
    }
}

// a) CH4
new Chart(document.getElementById('chartA'), {
    type: 'line',
    data: {
        datasets: [
            {type: 'scatter', data: atmPts(atmCH4), pointStyle: 'rectRot', pointRadius: 4.2, backgroundColor: '#f0a518', borderColor: '#6e5200', borderWidth: 0.8, order: 0},
            {data: toPts(ch4Red), borderColor: '#e8262b', borderWidth: 2.4, pointRadius: 0, order: 1},
            {data: toPts(ch4Blue), borderColor: '#1668b5', borderWidth: 2.4, pointRadius: 0, order: 1},
            {data: toPts(ch4Line), borderColor: '#000', borderWidth: 1.5, pointRadius: 0, order: 2}
        ]
    },
    options: {
        ...common,
        layout: {padding: {left: 0, top: 22, right: 25, bottom: 12}},
        plugins: {
            legend: {display: false}, tooltip: {enabled: false},
            frame: {xTicks: dayTicks, yTicks: ch4Ticks, color: '#555', width: 2, len: 5, letter: 'a)', lx: 13, ly: 17, vent: true}
        },
        scales: {
            x: dayAxis(false),
            y: {
                min: 1.81, max: 3.2,
                afterBuildTicks: s => { s.ticks = ch4Ticks.map(v => ({value: v})) },
                ticks: {font: {size: 18}, padding: 4, autoSkip: false, callback: v => isIn(ch4Labels, v) ? String(v) : ''},
                grid: {display: false, drawTicks: false},
                border: {display: false},
                title: {display: true, text: 'CH₄ (ppm)', font: {size: 19}, padding: {top: 10, bottom: 0}},
                afterFit: s => { s.width = 63 }
            }
        }
    },
    plugins: [framePlugin]
})

// b) d13C-CH4
new Chart(document.getElementById('chartB'), {
    type: 'line',
    data: {
        datasets: [
            {type: 'scatter', data: atmPts(atmD13), pointStyle: 'rectRot', pointRadius: 4.2, backgroundColor: '#f0a518', borderColor: '#6e5200', borderWidth: 0.8, order: 0},
            {data: toPts(d13Red), borderColor: '#e8262b', borderWidth: 2.4, pointRadius: 0, order: 1},
            {data: toPts(d13Blue), borderColor: '#1668b5', borderWidth: 2.4, pointRadius: 0, order: 1},
            {data: toPts(d13Line), borderColor: '#000', borderWidth: 1.5, pointRadius: 0, order: 2}
        ]
    },
    options: {
        ...common,
        layout: {padding: {left: 0, top: 12, right: 25, bottom: 0}},
        plugins: {
            legend: {display: false}, tooltip: {enabled: false},
            frame: {xTicks: dayTicks, yTicks: d13Ticks, color: '#555', width: 2, len: 5, letter: 'b)', lx: 13, ly: 20, vent: true}
        },
        scales: {
            x: dayAxis(true),
            y: {
                min: -59, max: -49,
                afterBuildTicks: s => { s.ticks = d13Ticks.map(v => ({value: v})) },
                ticks: {font: {size: 18}, padding: 4, autoSkip: false, callback: v => isIn(d13Labels, v) ? String(v) : ''},
                grid: {display: false, drawTicks: false},
                border: {display: false},
                title: {display: true, text: 'δ¹³C-CH₄ (‰)', font: {size: 19}, padding: {top: 10, bottom: 0}},
                afterFit: s => { s.width = 63 }
            }
        }
    },
    plugins: [framePlugin]
})

// c) Keeling plot
new Chart(document.getElementById('chartC'), {
    type: 'line',
    data: {
        datasets: [
            {type: 'scatter', data: toPts(keelRed), pointRadius: 6, backgroundColor: '#e3262a', borderColor: '#e3262a', borderWidth: 0, order: 0},
            {data: toPts(keelRedFit), borderColor: '#e3262a', borderWidth: 5, pointRadius: 0, order: 1},
            {type: 'scatter', data: toPts(keelBlue), pointRadius: 6, backgroundColor: '#0b6ab7', borderColor: '#0b6ab7', borderWidth: 0, order: 2},
            {data: toPts(keelBlueFit), borderColor: '#0b6ab7', borderWidth: 5, pointRadius: 0, order: 3}
        ]
    },
    options: {
        ...common,
        layout: {padding: {left: 0, top: 22, right: 24, bottom: 0}},
        plugins: {
            legend: {display: false}, tooltip: {enabled: false},
            frame: {xTicks: invTicks, yTicks: keelTicks, color: '#111', width: 2, len: 5, letter: 'c)', lx: 8, ly: 17, vent: false}
        },
        scales: {
            x: {
                type: 'linear', min: 0, max: 0.415,
                afterBuildTicks: s => { s.ticks = invTicks.map(v => ({value: v})) },
                ticks: {font: {size: 18}, padding: 4, maxRotation: 0, autoSkip: false, callback: v => isIn(invLabels, v) ? String(v) : ''},
                grid: {display: false, drawTicks: false},
                border: {display: false},
                title: {display: true, text: '1/CH₄ (ppm)', font: {size: 19}, padding: {top: 0, bottom: 5}},
                afterFit: s => { s.height = 67 }
            },
            y: {
                min: -70, max: -35,
                afterBuildTicks: s => { s.ticks = keelTicks.map(v => ({value: v})) },
                ticks: {font: {size: 18}, padding: 6, autoSkip: false},
                grid: {display: false, drawTicks: false},
                border: {display: false},
                title: {display: true, text: 'δ¹³C-CH₄ (‰)', font: {size: 19}, padding: {top: 3, bottom: 0}},
                afterFit: s => { s.width = 52 }
            }
        }
    },
    plugins: [framePlugin]
})
</script>
</body>
</html>
